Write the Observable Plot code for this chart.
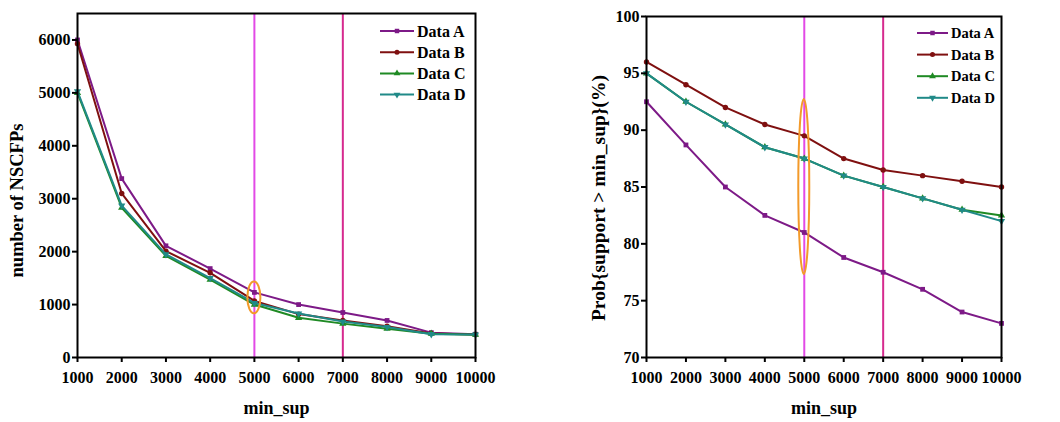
<!DOCTYPE html>
<html>
<head>
<meta charset="utf-8">
<script src="https://cdn.jsdelivr.net/npm/d3@7"></script>
<script src="https://cdn.jsdelivr.net/npm/@observablehq/plot@0.6"></script>
<style>
  html, body { margin: 0; padding: 0; background: white; }
  #wrap { display: flex; width: 1060px; height: 422px; }
  svg { display: block; }
</style>
</head>
<body>
<div id="wrap"></div>
<script>
// ---- data ----
const minSup = [1000, 2000, 3000, 4000, 5000, 6000, 7000, 8000, 9000, 10000];
const seriesNames = ["Data A", "Data B", "Data C", "Data D"];

const nscfpA = [6000, 3380, 2110, 1680, 1230, 1000, 850, 700, 470, 440];
const nscfpB = [5930, 3100, 2010, 1600, 1070, 820, 700, 590, 455, 435];
const nscfpC = [5000, 2830, 1920, 1470, 1000, 750, 640, 545, 450, 430];
const nscfpD = [5030, 2870, 1950, 1500, 1030, 830, 680, 575, 440, 435];

const probA = [92.5, 88.7, 85.0, 82.5, 81.0, 78.8, 77.5, 76.0, 74.0, 73.0];
const probB = [96.0, 94.0, 92.0, 90.5, 89.5, 87.5, 86.5, 86.0, 85.5, 85.0];
const probC = [95.0, 92.5, 90.5, 88.5, 87.5, 86.0, 85.0, 84.0, 83.0, 82.5];
const probD = [95.0, 92.5, 90.5, 88.5, 87.5, 86.0, 85.0, 84.0, 83.0, 82.0];

const leftTicks = [0, 1000, 2000, 3000, 4000, 5000, 6000];
const rightTicks = [70, 75, 80, 85, 90, 95, 100];
const markerLines = [5000, 7000];
const leftTitleY = "number of NSCFPs";
const rightTitleY = "Prob{support > min_sup}(%)";
const titleX = "min_sup";
const leftHighlight = {x: 5000, y: 1125, ry: 300};
const rightHighlight = {x: 5000, y: 85, ry: 7.7};

// ---- styles ----
const colors = {"Data A": "#7d1a87", "Data B": "#7f1010", "Data C": "#1f8a24", "Data D": "#208a88"};
const symbols = {"Data A": d3.symbolSquare, "Data B": d3.symbolCircle, "Data C": d3.symbolTriangle, "Data D": d3.symbolTriangle};
const rotations = {"Data A": 0, "Data B": 0, "Data C": 0, "Data D": 180};
const ruleColors = ["#e24ae6", "#d62a8e"];
const FONT = "'Liberation Serif', 'Times New Roman', serif";

function toRows(arrays) {
  const rows = [];
  seriesNames.forEach((s, i) => {
    minSup.forEach((x, j) => rows.push({series: s, x, y: arrays[i][j]}));
  });
  return rows;
}

function legendMark(x0, y0, rowGap, lineLen, size) {
  return (index, scales, values, dims) => {
    const g = d3.create("svg:g");
    seriesNames.forEach((s, i) => {
      const y = y0 + i * rowGap;
      g.append("line").attr("x1", x0).attr("x2", x0 + lineLen).attr("y1", y).attr("y2", y)
        .attr("stroke", colors[s]).attr("stroke-width", 2);
      g.append("path").attr("d", d3.symbol(symbols[s], 20)())
        .attr("transform", `translate(${x0 + lineLen / 2},${y}) rotate(${rotations[s]})`)
        .attr("fill", colors[s]);
      g.append("text").attr("x", x0 + lineLen + 3).attr("y", y).attr("dy", "0.35em")
        .style("text-anchor", "start")
        .style("font-size", size + "px").style("font-weight", "bold").style("font-family", FONT)
        .attr("fill", "black").text(s);
    });
    return g.node();
  };
}

function ellipseMark(h, rx) {
  return (index, scales) => {
    const cx = scales.x(h.x), cy = scales.y(h.y);
    const ry = Math.abs(scales.y(h.y - h.ry) - cy);
    return d3.create("svg:ellipse").attr("cx", cx).attr("cy", cy).attr("rx", rx).attr("ry", ry)
      .attr("fill", "none").attr("stroke", "#f39a2a").attr("stroke-width", 2).node();
  };
}

function makePanel(o) {
  const rows = toRows(o.arrays);
  const marks = [
    Plot.ruleX(markerLines, {x: d => d, stroke: (d, i) => ruleColors[i], strokeWidth: 2}),
  ];
  seriesNames.forEach(s => {
    const data = rows.filter(r => r.series === s);
    marks.push(Plot.line(data, {x: "x", y: "y", stroke: colors[s], strokeWidth: 2}));
    marks.push(Plot.dot(data, {x: "x", y: "y", fill: colors[s], stroke: "none",
      symbol: s === "Data A" ? "square" : s === "Data B" ? "circle" : "triangle",
      rotate: rotations[s], r: 2.7}));
  });
  marks.push(
    ellipseMark(o.highlight, o.ellipseRx),
    Plot.axisX({ticks: minSup, tickFormat: d3.format("d"), tickSize: 5, tickPadding: 9,
      strokeWidth: 2, fontSize: 16, fontWeight: "bold", label: null}),
    Plot.axisY({ticks: o.yTicks, tickFormat: d3.format("d"), tickSize: 5, tickPadding: 2,
      strokeWidth: 2, fontSize: 16, fontWeight: "bold", label: null}),
    Plot.frame({stroke: "black", strokeWidth: 2}),
    Plot.text([titleX], {text: d => d, frameAnchor: "bottom", dy: 56, fontSize: 18, fontWeight: "bold"}),
    Plot.text([o.titleY], {text: d => d, frameAnchor: "left", textAnchor: "middle", dx: o.titleDx,
      dy: o.titleDy, rotate: -90, fontSize: o.titleSize, fontWeight: "bold"}),
    legendMark(o.legendX, o.legendY, o.legendGap, o.legendLine, o.legendSize)
  );
  return Plot.plot({
    width: o.width, height: 422,
    marginLeft: o.ml, marginRight: o.mr, marginTop: o.mt, marginBottom: 65,
    x: {domain: [1000, 10000]},
    y: {domain: o.yDomain},
    style: {fontFamily: FONT, fontSize: "16px", color: "black", background: "white", overflow: "visible"},
    marks
  });
}

const wrap = document.getElementById("wrap");
wrap.append(makePanel({
  arrays: [nscfpA, nscfpB, nscfpC, nscfpD], yDomain: [0, 6500], yTicks: leftTicks,
  width: 530, ml: 77, mr: 55, mt: 13, titleY: leftTitleY, titleDx: -60, titleDy: 15, titleSize: 18.5,
  highlight: leftHighlight, ellipseRx: 6.5,
  legendX: 380, legendY: 31, legendGap: 21.2, legendLine: 34, legendSize: 16
}));
wrap.append(makePanel({
  arrays: [probA, probB, probC, probD], yDomain: [70, 100], yTicks: rightTicks,
  width: 530, ml: 116, mr: 59, mt: 16, titleY: rightTitleY, titleDx: -48, titleDy: 11, titleSize: 19.5,
  highlight: rightHighlight, ellipseRx: 5.5,
  legendX: 387, legendY: 33, legendGap: 21.6, legendLine: 31, legendSize: 14.5
}));
</script>
</body>
</html>
